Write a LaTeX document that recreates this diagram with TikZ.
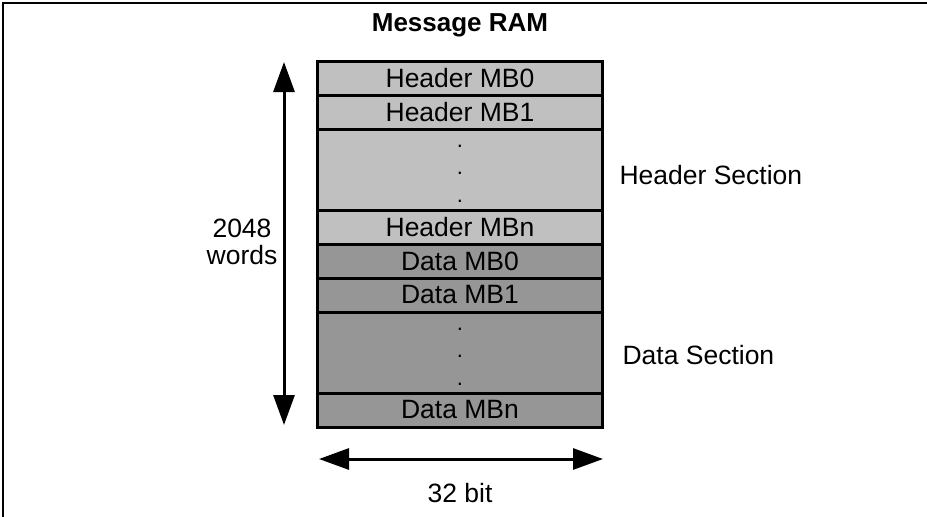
\documentclass[tikz,border=0pt]{standalone}
\usepackage{fontspec}
\setmainfont{Liberation Sans}
\usepackage{tikz}
\usepackage{xcolor}
\usetikzlibrary{arrows.meta, positioning}
\definecolor{cHeader}{RGB}{192,192,192}
\definecolor{cData}{RGB}{150,150,150}
\tikzset{
	row/.style     ={rectangle, draw=black, line width=3pt, minimum width=285pt, inner sep=0pt, outer sep=0pt, align=center},
	hdrrow/.style  ={row, fill=cHeader, minimum height=34pt},
	datrow/.style  ={row, fill=cData, minimum height=34pt},
	dotsrow/.style ={minimum height=81pt},
	dotstext/.style={align=center, inner sep=0pt, font=\fontsize{22}{27.5}\selectfont},
	dimarrow/.style={{Triangle[length=30pt, width=21pt]}-{Triangle[length=30pt, width=21pt]}, line width=3pt},
	lbl/.style     ={align=center, font=\fontsize{26.5}{27}\selectfont},
}
\begin{document}
\begin{tikzpicture}[x=1pt, y=-1pt, font=\fontsize{26.5}{30}\selectfont]
	\useasboundingbox (0,0) rectangle (927,517);
	% frame
	\draw[line width=2pt] (3,517) -- (3,3) -- (927,3);
	% memory rows
	\node[hdrrow, anchor=north] (hmb0) at (460,61) {Header MB0};
	\node[hdrrow, below=0pt of hmb0] (hmb1) {Header MB1};
	\node[hdrrow, dotsrow, below=0pt of hmb1] (hdots) {};
	\node[hdrrow, below=0pt of hdots] (hmbn) {Header MBn};
	\node[datrow, below=0pt of hmbn] (dmb0) {Data MB0};
	\node[datrow, below=0pt of dmb0] (dmb1) {Data MB1};
	\node[datrow, dotsrow, below=0pt of dmb1] (ddots) {};
	\node[datrow, below=0pt of ddots] (dmbn) {Data MBn};
	\node[dotstext] (hdotsx) at ([yshift=-4pt]hdots.center) {.\\.\\.};
	\node[dotstext] (ddotsx) at ([yshift=-4pt]ddots.center) {.\\.\\.};
	% titles
	\node[font=\fontsize{26}{30}\selectfont\bfseries] (title) at (460,25) {Message RAM};
	\node[lbl, anchor=west] (hsec) at (616,175) {Header Section};
	\node[lbl, anchor=west] (dsec) at (619,355) {Data Section};
	% dimensions
	\coordinate (vtop) at (284,62);
	\coordinate (vbot) at (284,425);
	\draw[dimarrow] (vtop) -- (vbot);
	\node[lbl] (words) at (242,242) {2048\\words};
	\coordinate (hleft) at (319,459);
	\coordinate (hright) at (603,459);
	\draw[dimarrow] (hleft) -- (hright);
	\node[lbl] (width) at (460,493) {32 bit};
\end{tikzpicture}
\end{document}
